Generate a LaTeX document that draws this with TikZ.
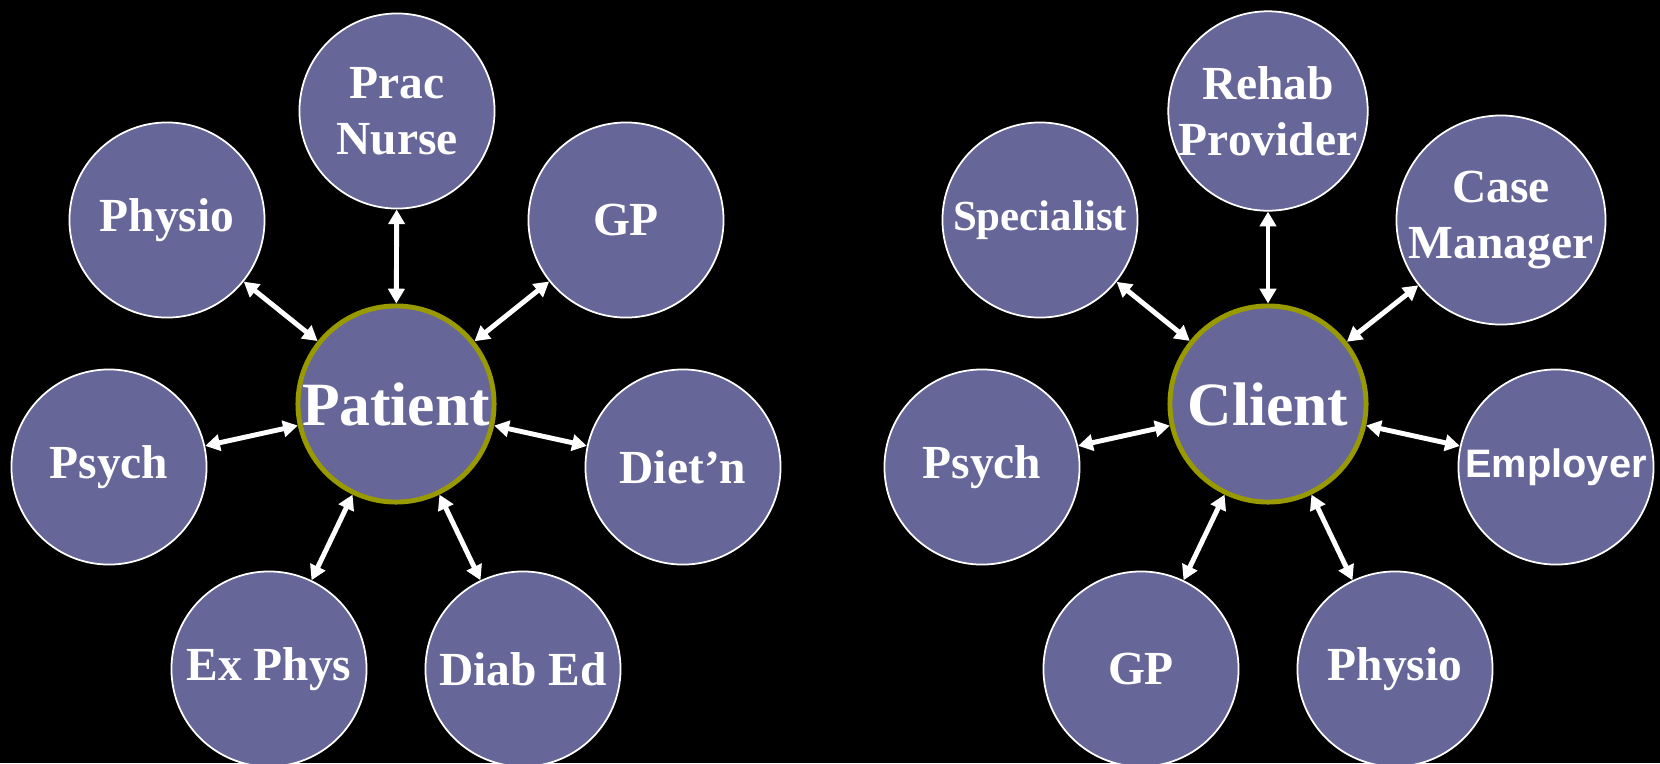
\documentclass[tikz,border=0pt]{standalone}
\usepackage{fontspec}
\setmainfont{Liberation Serif}
\newfontfamily\employerFont{Liberation Sans}
\usetikzlibrary{arrows.meta}
\tikzstyle{canvas} = [x = 0.01cm, y = -0.01cm]
\definecolor{circleColor}{RGB}{102,102,153}
\definecolor{hubRim}{RGB}{153,153,0}
\tikzstyle{memberStyle} = [circle, draw=white, line width=0.5pt, fill=circleColor, minimum size=1.95cm, inner sep=0pt, text=white, align=center, font=\bfseries\fontsize{13.5}{16}\selectfont]
\tikzstyle{hubStyle} = [memberStyle, draw=hubRim, line width=1.4pt, minimum size=1.96cm, font=\bfseries\fontsize{17.5}{20}\selectfont]
\tikzstyle{linkStyle} = [draw=white, line width=1.4pt, >={Triangle[length=4.2pt, width=4.6pt]}, <->]
\newcommand{\teamMember}[5][]{\node [memberStyle, #1] (#2) at (#3, #4) {#5};}
\newcommand{\teamHub}[4]{\node [hubStyle] (#1) at (#2, #3) {#4};}
\newcommand{\teamLink}[2]{\draw [linkStyle] (#1) -- (#2);}

\begin{document}
\begin{tikzpicture}[canvas]
  \useasboundingbox (0, 0) rectangle (1660, 763);
  \fill [black] (0, 0) rectangle (1660, 763);
  % patient team
  \teamHub{patient}{396}{404}{Patient}
  \teamMember{pracNurse}{397}{111}{Prac\\Nurse}
  \teamMember{physioL}{167}{220}{Physio}
  \teamMember{gpL}{626}{220}{GP}
  \teamMember{psychL}{109}{467}{Psych}
  \teamMember{dietn}{683}{467}{Diet'n}
  \teamMember{exPhys}{269}{669}{Ex Phys}
  \teamMember{diabEd}{523}{669}{Diab Ed}
  \foreach \member in {pracNurse, physioL, gpL, psychL, dietn, exPhys, diabEd} {
    \teamLink{patient}{\member}
  }
  % client team
  \teamHub{client}{1268}{404}{Client}
  \teamMember{rehab}{1268}{111}{Rehab\\Provider}
  \teamMember[font=\bfseries\fontsize{12.2}{15}\selectfont]{specialist}{1040}{220}{Specialist}
  \teamMember{caseManager}{1501}{220}{Case\\Manager}
  \teamMember{psychR}{982}{467}{Psych}
  \teamMember[font=\employerFont\bfseries\fontsize{11.3}{14}\selectfont]{employer}{1556}{467}{Employer}
  \teamMember{gpR}{1141}{669}{GP}
  \teamMember{physioR}{1395}{669}{Physio}
  \foreach \member in {rehab, specialist, caseManager, psychR, employer, gpR, physioR} {
    \teamLink{client}{\member}
  }
\end{tikzpicture}
\end{document}
